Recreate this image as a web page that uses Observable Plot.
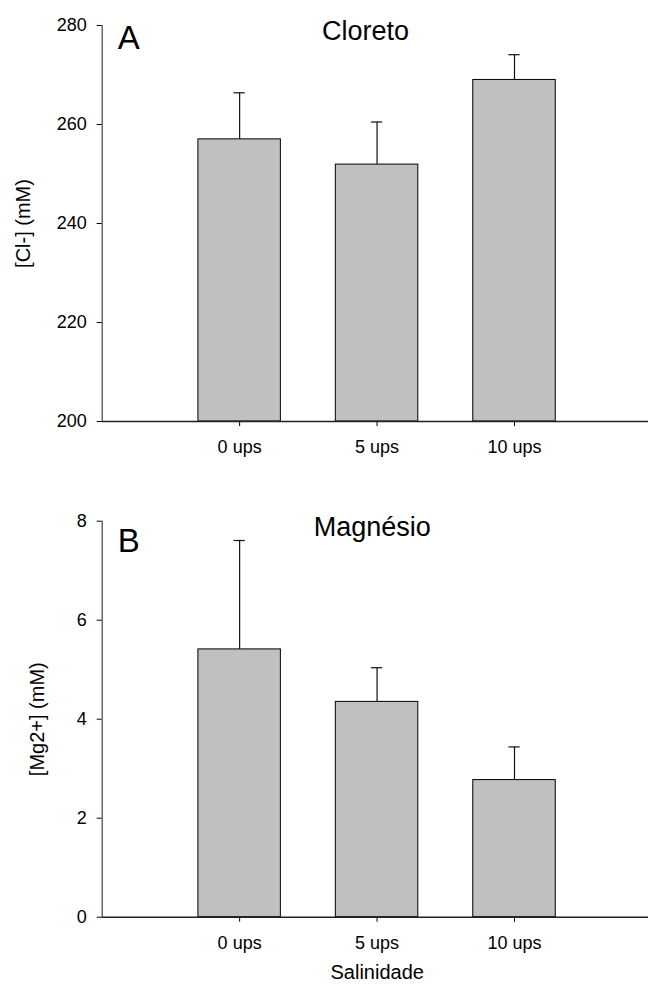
<!DOCTYPE html>
<html>
<head>
<meta charset="utf-8">
<script src="https://cdn.jsdelivr.net/npm/d3@7"></script>
<script src="https://cdn.jsdelivr.net/npm/@observablehq/plot@0.6"></script>
<style>
  html, body { margin: 0; padding: 0; background: white; }
  #chart { width: 648px; }
  #chart svg { display: block; }
</style>
</head>
<body>
<div id="chart"></div>
<script>
const categories = ["0 ups", "5 ups", "10 ups"];
const chlorideMean = [257.0, 251.9, 269.0];
const chlorideErr = [9.4, 8.6, 5.1];
const magnesiumMean = [5.41, 4.35, 2.77];
const magnesiumErr = [2.20, 0.69, 0.67];
const chlorideTicks = [200, 220, 240, 260, 280];
const magnesiumTicks = [0, 2, 4, 6, 8];

const FONT = "'Liberation Sans', Arial, Helvetica, sans-serif";

function panel(opts) {
  const data = categories.map((c, i) => ({i, c, v: opts.means[i], e: opts.errs[i]}));
  const base = opts.domain[0];
  return Plot.plot({
    width: 648,
    height: opts.height,
    marginLeft: 101.7,
    marginRight: 0,
    marginTop: opts.marginTop,
    marginBottom: opts.marginBottom,
    style: {fontFamily: FONT, fontSize: "18px", color: "black", background: "white", overflow: "visible"},
    x: {domain: [-1, 2.975], ticks: [0, 1, 2], tickFormat: i => categories[i], tickSize: 5, tickPadding: 14, label: null},
    y: {domain: opts.domain, ticks: opts.ticks, tickSize: 5, tickPadding: 10.5, label: null},
    marks: [
      Plot.rect(data, {x1: d => d.i - 0.3, x2: d => d.i + 0.3, y1: base, y2: "v", fill: "#c0c0c0", stroke: "black", strokeWidth: 1}),
      Plot.ruleX(data, {x: "i", y1: "v", y2: d => d.v + d.e, stroke: "#111", strokeWidth: 1.2}),
      Plot.ruleY(data, {y: d => d.v + d.e, x1: d => d.i - 0.041, x2: d => d.i + 0.041, stroke: "#111", strokeWidth: 1.2}),
      Plot.ruleX([-1], {stroke: "#444", strokeWidth: 1.2}),
      Plot.ruleY([base], {stroke: "#222", strokeWidth: 1.4}),
      Plot.text([opts.letter], {text: d => d, frameAnchor: "top-left", dx: 15.6, dy: opts.letterDy, textAnchor: "start", lineAnchor: "top", fontSize: 33}),
      Plot.text([opts.title], {text: d => d, frameAnchor: "top-left", dx: opts.titleDx, dy: opts.titleDy, textAnchor: "middle", lineAnchor: "top", fontSize: 27}),
      Plot.text([opts.ylabel], {text: d => d, frameAnchor: "left", rotate: -90, dx: opts.ylabelDx, textAnchor: "middle", lineAnchor: "middle", fontSize: 20}),
      ...(opts.xlabel ? [Plot.text([opts.xlabel], {text: d => d, frameAnchor: "bottom-left", dx: 275, dy: 48, textAnchor: "middle", lineAnchor: "top", fontSize: 20})] : [])
    ]
  });
}

const chart = document.getElementById("chart");
chart.append(panel({
  means: chlorideMean, errs: chlorideErr, domain: [200, 280], ticks: chlorideTicks,
  height: 470, marginTop: 25, marginBottom: 49,
  letter: "A", letterDy: 0, title: "Cloreto", titleDx: 263.3, titleDy: -5,
  ylabel: "[Cl-] (mM)", ylabelDx: -78.7
}));
chart.append(panel({
  means: magnesiumMean, errs: magnesiumErr, domain: [0, 8], ticks: magnesiumTicks,
  height: 516, marginTop: 50.7, marginBottom: 69.3,
  letter: "B", letterDy: 7, title: "Magnésio", titleDx: 270, titleDy: -4,
  ylabel: "[Mg2+] (mM)", ylabelDx: -64.7, xlabel: "Salinidade"
}));
</script>
</body>
</html>
